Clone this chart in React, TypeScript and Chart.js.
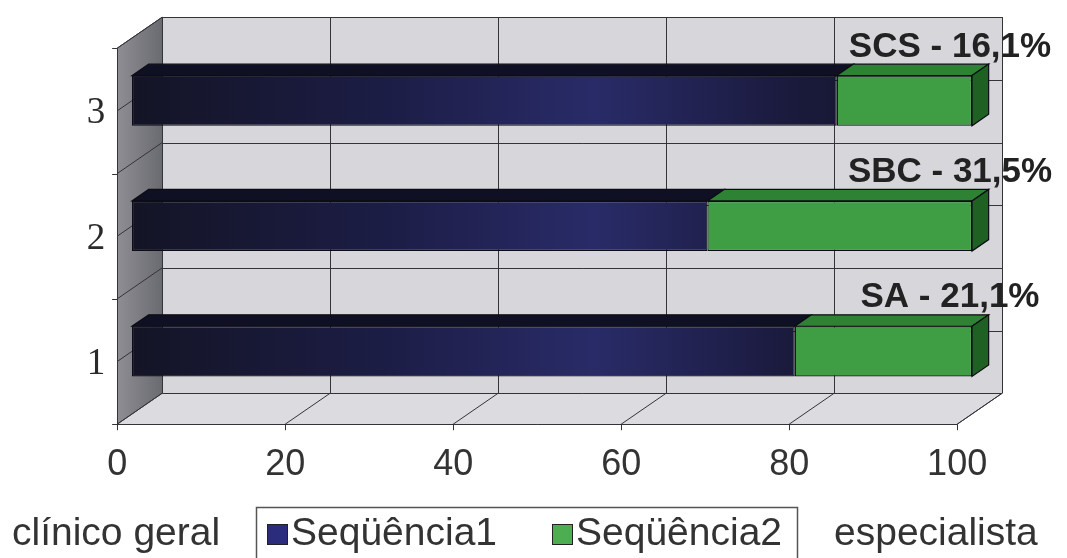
import React, { useEffect, useRef } from 'react';
import { Chart, registerables } from 'chart.js';

Chart.register(...registerables);

// ---- data ----
const categories = ['1', '2', '3'];
const seriesNames = ['Seqüência1', 'Seqüência2'];
const clinicoGeral = [78.9, 68.5, 83.9];
const especialista = [21.1, 31.5, 16.1];
const barLabels = ['SA - 21,1%', 'SBC - 31,5%', 'SCS - 16,1%'];
const xTicks = [0, 20, 40, 60, 80, 100];
const legendLeftText = 'clínico geral';
const legendRightText = 'especialista';

// ---- style ----
const DEPTH = { x: 45, y: -31 };
const FRONT = -0.33;
const BACK = 0.67;
const BAR_DEPTH = 0.37;
const SANS = '"Liberation Sans", Arial, sans-serif';
const SERIF = '"Liberation Serif", "Times New Roman", serif';
const NAVY_LEGEND = '#2b2c7c';
const GREEN = '#3f9d43';
const GREEN_LEGEND = '#4cae50';
const GRID = '#333338';

function poly(ctx: CanvasRenderingContext2D, pts: number[][], fill?: any, stroke?: string, lw = 1) {
  ctx.beginPath();
  ctx.moveTo(pts[0][0], pts[0][1]);
  for (let i = 1; i < pts.length; i++) ctx.lineTo(pts[i][0], pts[i][1]);
  ctx.closePath();
  if (fill) {
    ctx.fillStyle = fill;
    ctx.fill();
  }
  if (stroke) {
    ctx.strokeStyle = stroke;
    ctx.lineWidth = lw;
    ctx.stroke();
  }
}

const c = (v: number) => Math.round(v) + 0.5;

function line(ctx: CanvasRenderingContext2D, x1: number, y1: number, x2: number, y2: number) {
  ctx.beginPath();
  if (Math.abs(x1 - x2) < 0.01) {
    ctx.moveTo(c(x1), y1);
    ctx.lineTo(c(x2), y2);
  } else if (Math.abs(y1 - y2) < 0.01) {
    ctx.moveTo(x1, c(y1));
    ctx.lineTo(x2, c(y2));
  } else {
    ctx.moveTo(x1, y1);
    ctx.lineTo(x2, y2);
  }
  ctx.stroke();
}

function geometry(chart: any) {
  const ca = chart.chartArea;
  const xs = chart.scales.x;
  const ys = chart.scales.y;
  const fr = { dx: DEPTH.x * FRONT, dy: DEPTH.y * FRONT };
  const bk = { dx: DEPTH.x * BACK, dy: DEPTH.y * BACK };
  const centers = categories.map((_, i) => ys.getPixelForValue(i));
  const sorted = [...centers].sort((a, b) => a - b);
  const bounds = [ca.top];
  for (let i = 0; i < sorted.length - 1; i++) bounds.push((sorted[i] + sorted[i + 1]) / 2);
  bounds.push(ca.bottom);
  return { ca, xs, ys, fr, bk, centers, bounds, x0: xs.getPixelForValue(0), x1: xs.getPixelForValue(100) };
}

const scenePlugin = {
  id: 'scene3d',
  beforeDatasetsDraw(chart: any) {
    const ctx: CanvasRenderingContext2D = chart.ctx;
    const { ca, xs, fr, bk, centers, bounds, x0, x1 } = geometry(chart);
    const top = ca.top;
    const bot = ca.bottom;
    ctx.save();
    // back wall
    ctx.fillStyle = '#d6d6db';
    ctx.fillRect(x0 + bk.dx, top + bk.dy, x1 - x0, bot - top);
    // floor
    poly(ctx, [
      [x0 + bk.dx, bot + bk.dy],
      [x1 + bk.dx, bot + bk.dy],
      [x1 + fr.dx, bot + fr.dy],
      [x0 + fr.dx, bot + fr.dy],
    ], '#dcdce0');
    // left wall
    const lg = ctx.createLinearGradient(x0 + fr.dx, 0, x0 + bk.dx, 0);
    lg.addColorStop(0, '#8e8e94');
    lg.addColorStop(1, '#6a6a71');
    poly(ctx, [
      [x0 + fr.dx, top + fr.dy],
      [x0 + bk.dx, top + bk.dy],
      [x0 + bk.dx, bot + bk.dy],
      [x0 + fr.dx, bot + fr.dy],
    ], lg);

    ctx.strokeStyle = GRID;
    ctx.lineWidth = 1;
    // vertical grid on back wall + floor diagonals
    xTicks.forEach((v) => {
      const xp = xs.getPixelForValue(v);
      line(ctx, xp + bk.dx, top + bk.dy, xp + bk.dx, bot + bk.dy);
      line(ctx, xp + bk.dx, bot + bk.dy, xp + fr.dx, bot + fr.dy);
      line(ctx, xp + fr.dx, bot + fr.dy, xp + fr.dx, bot + fr.dy + 6);
    });
    // horizontal grid on back wall + side wall diagonals
    const hy = [...bounds, ...centers];
    hy.forEach((yb) => {
      line(ctx, x0 + bk.dx, yb + bk.dy, x1 + bk.dx, yb + bk.dy);
      line(ctx, x0 + fr.dx, yb + fr.dy, x0 + bk.dx, yb + bk.dy);
    });
    bounds.forEach((yb) => {
      line(ctx, x0 + fr.dx - 5, yb + fr.dy, x0 + fr.dx, yb + fr.dy);
    });
    // outlines
    line(ctx, x0 + fr.dx, top + fr.dy, x0 + fr.dx, bot + fr.dy);
    line(ctx, x0 + fr.dx, bot + fr.dy, x1 + fr.dx, bot + fr.dy);
    line(ctx, x1 + fr.dx, bot + fr.dy, x1 + bk.dx, bot + bk.dy);
    line(ctx, x1 + bk.dx, bot + bk.dy, x1 + bk.dx, top + bk.dy);
    line(ctx, x0 + bk.dx, top + bk.dy, x1 + bk.dx, top + bk.dy);
    line(ctx, x0 + fr.dx, top + fr.dy, x0 + bk.dx, top + bk.dy);
    ctx.restore();
  },
  afterDatasetsDraw(chart: any) {
    const ctx: CanvasRenderingContext2D = chart.ctx;
    const bdx = DEPTH.x * BAR_DEPTH;
    const bdy = DEPTH.y * BAR_DEPTH;
    const capColors = ['#101024', '#2e8233'];
    const sideColor = '#1f6123';
    ctx.save();
    chart.data.datasets.forEach((_: any, di: number) => {
      const meta = chart.getDatasetMeta(di);
      const last = di === chart.data.datasets.length - 1;
      meta.data.forEach((el: any) => {
        const p = el.getProps(['x', 'y', 'base', 'height'], true);
        const t = p.y - p.height / 2;
        const b = p.y + p.height / 2;
        poly(ctx, [
          [p.base, t],
          [p.x, t],
          [p.x + bdx, t + bdy],
          [p.base + bdx, t + bdy],
        ], capColors[di], '#0c0c14', 1.2);
        if (last) {
          poly(ctx, [
            [p.x, t],
            [p.x + bdx, t + bdy],
            [p.x + bdx, b + bdy],
            [p.x, b],
          ], sideColor, '#0c0c14', 1.2);
        }
      });
    });
    ctx.restore();
  },
  afterDraw(chart: any) {
    const ctx: CanvasRenderingContext2D = chart.ctx;
    const { ca, xs, fr, centers, x0, x1 } = geometry(chart);
    ctx.save();
    // category labels
    ctx.fillStyle = '#2a2a2a';
    ctx.font = `37px ${SERIF}`;
    ctx.textAlign = 'right';
    ctx.textBaseline = 'alphabetic';
    categories.forEach((cat, i) => {
      ctx.fillText(cat, x0 + fr.dx - 12, centers[i] + fr.dy + 12.5);
    });
    // x tick labels
    ctx.font = `36px ${SANS}`;
    ctx.textAlign = 'center';
    ctx.fillStyle = '#333';
    xTicks.forEach((v) => {
      ctx.fillText(String(v), xs.getPixelForValue(v) + fr.dx, ca.bottom + fr.dy + 51);
    });
    // bar annotations
    ctx.font = `bold 35px ${SANS}`;
    ctx.fillStyle = '#222';
    barLabels.forEach((t, i) => {
      ctx.fillText(t, x1 - 22, centers[i] - 44);
    });
    // legend
    ctx.font = `39px ${SANS}`;
    ctx.textAlign = 'left';
    ctx.fillStyle = '#333';
    ctx.fillText(legendLeftText, 12, 545);
    ctx.fillText(legendRightText, 834, 545);
    ctx.strokeStyle = '#555';
    ctx.lineWidth = 1.5;
    ctx.strokeRect(256.5, 507.5, 541, 70);
    const sw = [NAVY_LEGEND, GREEN_LEGEND];
    const sx = [267, 552];
    seriesNames.forEach((n, i) => {
      ctx.fillStyle = sw[i];
      ctx.fillRect(sx[i], 524, 20, 20);
      ctx.strokeStyle = '#222';
      ctx.lineWidth = 1;
      ctx.strokeRect(sx[i] + 0.5, 524.5, 20, 20);
      ctx.fillStyle = '#333';
      ctx.fillText(n, sx[i] + 24, 545);
    });
    ctx.restore();
  },
};

export default function App() {
  const ref = useRef<HTMLCanvasElement>(null);
  useEffect(() => {
    const canvas = ref.current!;
    const navyFill = (context: any) => {
      const chart = context.chart;
      const ca = chart.chartArea;
      if (!ca) return '#1c1c44';
      const g = chart.ctx.createLinearGradient(ca.left, 0, ca.right, 0);
      g.addColorStop(0, '#141426');
      g.addColorStop(0.3, '#1c1d45');
      g.addColorStop(0.55, '#292b68');
      g.addColorStop(0.8, '#19193a');
      g.addColorStop(1, '#141426');
      return g;
    };
    const chart = new Chart(canvas, {
      type: 'bar',
      data: {
        labels: categories,
        datasets: [
          {
            label: seriesNames[0],
            data: clinicoGeral,
            backgroundColor: navyFill,
            borderColor: '#0c0c14',
            borderWidth: 1.2,
            borderSkipped: false,
          },
          {
            label: seriesNames[1],
            data: especialista,
            backgroundColor: GREEN,
            borderColor: '#0c0c14',
            borderWidth: 1.2,
            borderSkipped: false,
          },
        ],
      },
      options: {
        indexAxis: 'y',
        responsive: false,
        animation: false,
        devicePixelRatio: 1,
        layout: { padding: { left: 132, right: 95, top: 38, bottom: 144 } },
        datasets: { bar: { categoryPercentage: 1, barPercentage: 0.4 } },
        scales: {
          x: { type: 'linear', min: 0, max: 100, stacked: true, display: false },
          y: { type: 'category', stacked: true, reverse: true, display: false },
        },
        plugins: {
          legend: { display: false },
          tooltip: { enabled: false },
        },
      },
      plugins: [scenePlugin],
    });
    return () => chart.destroy();
  }, []);
  return (
    <div style={{ position: 'fixed', left: 0, top: 0, width: 1067, height: 558, background: '#fff' }}>
      <canvas ref={ref} width={1067} height={558} style={{ display: 'block' }} />
    </div>
  );
}
